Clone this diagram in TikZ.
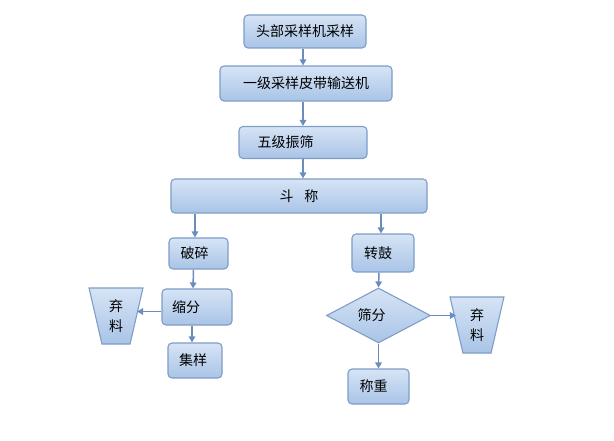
\documentclass[tikz,border=0pt]{standalone}
\usepackage{fontspec}
\setmainfont{Noto Sans CJK SC}
\usetikzlibrary{shapes.geometric,arrows.meta}
\definecolor{bd}{HTML}{7E9DC8}
\definecolor{ftop}{HTML}{D6E4F5}
\definecolor{fbot}{HTML}{A9C4E7}
\definecolor{ar}{HTML}{6A8DBE}
\tikzset{
  bx/.style={draw=bd, line width=1.1pt, rounded corners=4pt, top color=ftop, bottom color=fbot,
    inner sep=0pt, font=\fontsize{14}{20}\selectfont},
  dia/.style={bx, diamond, rounded corners=0pt},
  trap/.style={bx, rounded corners=0pt, trapezium, trapezium stretches=true, trapezium angle=79,
    shape border rotate=180, align=left},
  arr/.style={draw=ar, line width=1.5pt, -{Triangle[length=6pt,width=6.5pt]}}
}
\begin{document}
\begin{tikzpicture}[x=1pt,y=-1pt]
\useasboundingbox (0,0) rectangle (614,441);
\node[bx, minimum width=122, minimum height=33] (hb) at (305,31.5) {头部采样机采样};
\node[bx, minimum width=172, minimum height=35] (yj) at (306,83.5) {一级采样皮带输送机};
\node[bx, minimum width=128, minimum height=32] (wj) at (303,142.5) {五级振筛\hspace*{35pt}};
\node[bx, minimum width=256, minimum height=34] (dc) at (299,196) {斗\hspace*{11pt}称};
\node[bx, minimum width=59, minimum height=31] (ps) at (198.5,253.5) {破碎\hspace*{8pt}};
\node[bx, minimum width=70, minimum height=36] (sf) at (197,307) {缩分\hspace*{22pt}};
\node[bx, minimum width=54, minimum height=35] (jy) at (195,360.5) {集样\hspace*{4pt}};
\node[trap, minimum width=54, minimum height=56] (ql) at (116,316) {弃\\料};
\node[bx, minimum width=62, minimum height=38] (zg) at (383,253) {转鼓\hspace*{10pt}};
\node[dia, minimum width=104, minimum height=55] (sd) at (378.5,315.5) {筛分\hspace*{14pt}};
\node[trap, minimum width=54, minimum height=56] (qr) at (477,325) {弃\\料};
\node[bx, minimum width=61, minimum height=35] (cz) at (378.5,386.5) {称重\hspace*{10pt}};
\coordinate (sfw) at ([yshift=-4.5pt]sf.west);
\draw[arr] ([xshift=-2pt]hb.south) -- ([xshift=-3pt]yj.north);
\draw[arr] ([xshift=-3pt]yj.south) -- ([xshift=0pt]wj.north);
\draw[arr] (wj.south) -- (wj.south |- dc.north);
\draw[arr] ([xshift=-3.5pt]ps.north |- dc.south) -- ([xshift=-3.5pt]ps.north);
\draw[arr] ([xshift=-5pt]ps.south) -- ([xshift=-4pt]sf.north);
\draw[arr] ([xshift=-5pt]sf.south) -- ([xshift=-3pt]jy.north);
\draw[arr] (sfw) -- (sfw -| ql.east);
\draw[arr] ([xshift=-2pt]zg.north |- dc.south) -- ([xshift=-2pt]zg.north);
\draw[arr] ([xshift=-4pt]zg.south) -- (sd.north);
\draw[arr] (sd.east) -- (qr.west |- sd.east);
\draw[arr] (sd.south) -- (sd.south |- cz.north);
\end{tikzpicture}
\end{document}
